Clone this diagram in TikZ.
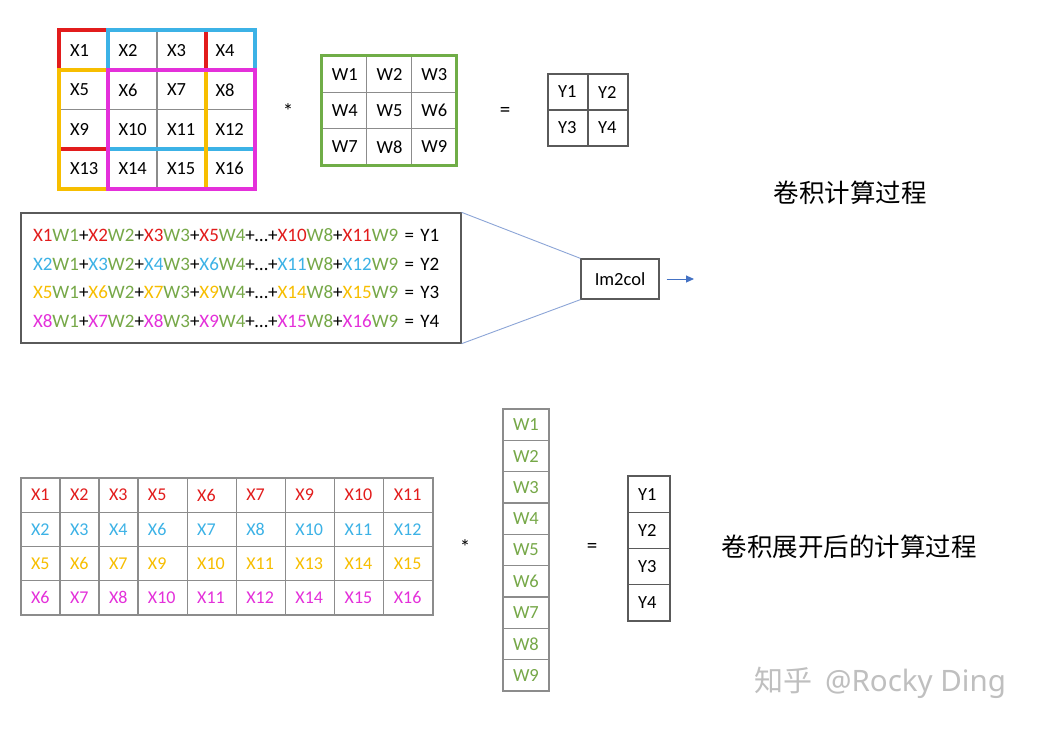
\documentclass[tikz,border=0pt]{standalone}
\usepackage{fontspec}
\setmainfont{Carlito}
\newfontfamily\cjk{Noto Sans CJK SC}
\newfontfamily\wmfont{Noto Sans}
\usetikzlibrary{arrows.meta}
\definecolor{Cred}{RGB}{226,28,28}
\definecolor{Cblue}{RGB}{60,178,230}
\definecolor{Cyel}{RGB}{247,190,0}
\definecolor{Cmag}{RGB}{228,48,218}
\definecolor{Cgreen}{RGB}{112,173,71}
\definecolor{Cwtxt}{RGB}{118,168,72}
\definecolor{Cline}{RGB}{140,140,140}
\definecolor{Cframe}{RGB}{90,90,90}
\definecolor{Clink}{RGB}{140,165,215}
\definecolor{Carrow}{RGB}{68,114,196}
\newcommand\Xr[1]{\textcolor{Cred}{#1}}
\newcommand\Xb[1]{\textcolor{Cblue}{#1}}
\newcommand\Xy[1]{\textcolor{Cyel}{#1}}
\newcommand\Xm[1]{\textcolor{Cmag}{#1}}
\newcommand\Wg[1]{\textcolor{Cwtxt}{#1}}
\begin{document}
\begin{tikzpicture}[
      x=1pt, y=-1pt,
      cell/.style={draw=Cline, line width=1.2pt, inner xsep=10pt, inner ysep=0pt,
                   align=left, font=\fontsize{18.5}{20}\selectfont},
      xcell/.style={cell, text width=28.5pt, minimum height=39.25pt},
      kcell/.style={cell, text width=24.67pt, minimum height=36.33pt},
      ycell/.style={cell, draw=Cframe, text width=20pt, minimum height=36pt},
      mnar/.style={cell, text width=19pt, minimum height=34.25pt,
                   font=\fontsize{18}{20}\selectfont},
      mwide/.style={mnar, text width=29.17pt},
      wcol/.style={cell, text width=26pt, minimum height=31.33pt, text=Cwtxt},
      ycol/.style={cell, draw=Cframe, text width=22pt, minimum height=36.25pt},
      xred/.style={text=Cred}, xblu/.style={text=Cblue},
      xyel/.style={text=Cyel}, xmag/.style={text=Cmag},
      win/.style={line width=4pt},
      op/.style={font=\fontsize{21}{22}\selectfont},
      headtxt/.style={font=\cjk\fontsize{25.5}{28}\selectfont}]
    \path[use as bounding box, fill=white] (0,0) rectangle (1037,731);
    % Input 4x4
    \node[xcell] (x1)  at (84.25,50.625)   {X1};
    \node[xcell] (x2)  at (132.75,50.625)  {X2};
    \node[xcell] (x3)  at (181.25,50.625)  {X3};
    \node[xcell] (x4)  at (229.75,50.625)  {X4};
    \node[xcell] (x5)  at (84.25,89.875)   {X5};
    \node[xcell] (x6)  at (132.75,89.875)  {X6};
    \node[xcell] (x7)  at (181.25,89.875)  {X7};
    \node[xcell] (x8)  at (229.75,89.875)  {X8};
    \node[xcell] (x9)  at (84.25,129.125)  {X9};
    \node[xcell] (x10) at (132.75,129.125) {X10};
    \node[xcell] (x11) at (181.25,129.125) {X11};
    \node[xcell] (x12) at (229.75,129.125) {X12};
    \node[xcell] (x13) at (84.25,168.375)  {X13};
    \node[xcell] (x14) at (132.75,168.375) {X14};
    \node[xcell] (x15) at (181.25,168.375) {X15};
    \node[xcell] (x16) at (229.75,168.375) {X16};
    % Janelas
    \draw[win, Cred]  (x1.north west) rectangle (x11.south east);
    \draw[win, Cblue] (x2.north west) rectangle (x12.south east);
    \draw[win, Cyel]  (x5.north west) rectangle (x15.south east);
    \draw[win, Cmag]  (x6.north west) rectangle (x16.south east);
    % Kernel 3x3
    \node[op] (mul1) at (288,111) {*};
    \node[kcell] (w1) at (344.33,74.17)  {W1};
    \node[kcell] (w2) at (389,74.17)     {W2};
    \node[kcell] (w3) at (433.67,74.17)  {W3};
    \node[kcell] (w4) at (344.33,110.5)  {W4};
    \node[kcell] (w5) at (389,110.5)     {W5};
    \node[kcell] (w6) at (433.67,110.5)  {W6};
    \node[kcell] (w7) at (344.33,146.83) {W7};
    \node[kcell] (w8) at (389,146.83)    {W8};
    \node[kcell] (w9) at (433.67,146.83) {W9};
    \draw[Cgreen, line width=3.5pt] (w1.north west) rectangle (w9.south east);
    % Saida 2x2
    \node[op] (eq1) at (505,112) {=};
    \node[ycell] (y1) at (568,92)  {Y1};
    \node[ycell] (y2) at (608,92)  {Y2};
    \node[ycell] (y3) at (568,128) {Y3};
    \node[ycell] (y4) at (608,128) {Y4};
    \node[headtxt] (lbl1) at (850,193) {卷积计算过程};
    % Equacoes
    \node[draw=Cframe, line width=1.3pt, text width=416pt, inner xsep=12pt,
          minimum height=130pt, align=left, font=\fontsize{19}{28.5}\selectfont]
      (eqbox) at (241,278) {%
      \Xr{X1}\Wg{W1}+\Xr{X2}\Wg{W2}+\Xr{X3}\Wg{W3}+\Xr{X5}\Wg{W4}+…+\Xr{X10}\Wg{W8}+\Xr{X11}\Wg{W9} = Y1\\
      \Xb{X2}\Wg{W1}+\Xb{X3}\Wg{W2}+\Xb{X4}\Wg{W3}+\Xb{X6}\Wg{W4}+…+\Xb{X11}\Wg{W8}+\Xb{X12}\Wg{W9} = Y2\\
      \Xy{X5}\Wg{W1}+\Xy{X6}\Wg{W2}+\Xy{X7}\Wg{W3}+\Xy{X9}\Wg{W4}+…+\Xy{X14}\Wg{W8}+\Xy{X15}\Wg{W9} = Y3\\
      \Xm{X8}\Wg{W1}+\Xm{X7}\Wg{W2}+\Xm{X8}\Wg{W3}+\Xm{X9}\Wg{W4}+…+\Xm{X15}\Wg{W8}+\Xm{X16}\Wg{W9} = Y4};
    \node[draw=Cframe, line width=1.3pt, minimum width=78pt, minimum height=40pt,
          inner sep=0pt, font=\fontsize{18.5}{20}\selectfont] (im2col) at (620,279) {Im2col};
    \draw[Clink, line width=0.9pt] (eqbox.north east) -- (im2col.north west);
    \draw[Clink, line width=0.9pt] (eqbox.south east) -- (im2col.south west);
    \coordinate (arrend) at (694,279);
    \draw[Carrow, line width=1pt, shorten <=7pt, -{Triangle[length=8pt,width=7pt]}]
      (im2col.east) -- (arrend);
    % Matriz expandida
    \node[mnar,xred]  (m11) at (40.5,495.125)   {X1};
    \node[mnar,xred]  (m12) at (79.5,495.125)   {X2};
    \node[mnar,xred]  (m13) at (118.5,495.125)  {X3};
    \node[mwide,xred] (m14) at (162.58,495.125) {X5};
    \node[mwide,xred] (m15) at (211.75,495.125) {X6};
    \node[mwide,xred] (m16) at (260.92,495.125) {X7};
    \node[mwide,xred] (m17) at (310.08,495.125) {X9};
    \node[mwide,xred] (m18) at (359.25,495.125) {X10};
    \node[mwide,xred] (m19) at (408.42,495.125) {X11};
    \node[mnar,xblu]  (m21) at (40.5,529.375)   {X2};
    \node[mnar,xblu]  (m22) at (79.5,529.375)   {X3};
    \node[mnar,xblu]  (m23) at (118.5,529.375)  {X4};
    \node[mwide,xblu] (m24) at (162.58,529.375) {X6};
    \node[mwide,xblu] (m25) at (211.75,529.375) {X7};
    \node[mwide,xblu] (m26) at (260.92,529.375) {X8};
    \node[mwide,xblu] (m27) at (310.08,529.375) {X10};
    \node[mwide,xblu] (m28) at (359.25,529.375) {X11};
    \node[mwide,xblu] (m29) at (408.42,529.375) {X12};
    \node[mnar,xyel]  (m31) at (40.5,563.625)   {X5};
    \node[mnar,xyel]  (m32) at (79.5,563.625)   {X6};
    \node[mnar,xyel]  (m33) at (118.5,563.625)  {X7};
    \node[mwide,xyel] (m34) at (162.58,563.625) {X9};
    \node[mwide,xyel] (m35) at (211.75,563.625) {X10};
    \node[mwide,xyel] (m36) at (260.92,563.625) {X11};
    \node[mwide,xyel] (m37) at (310.08,563.625) {X13};
    \node[mwide,xyel] (m38) at (359.25,563.625) {X14};
    \node[mwide,xyel] (m39) at (408.42,563.625) {X15};
    \node[mnar,xmag]  (m41) at (40.5,597.875)   {X6};
    \node[mnar,xmag]  (m42) at (79.5,597.875)   {X7};
    \node[mnar,xmag]  (m43) at (118.5,597.875)  {X8};
    \node[mwide,xmag] (m44) at (162.58,597.875) {X10};
    \node[mwide,xmag] (m45) at (211.75,597.875) {X11};
    \node[mwide,xmag] (m46) at (260.92,597.875) {X12};
    \node[mwide,xmag] (m47) at (310.08,597.875) {X14};
    \node[mwide,xmag] (m48) at (359.25,597.875) {X15};
    \node[mwide,xmag] (m49) at (408.42,597.875) {X16};
    % Kernel em coluna
    \node[op] (mul2) at (465,547) {*};
    \node[wcol] (c1) at (526,424.67) {W1};
    \node[wcol] (c2) at (526,456)    {W2};
    \node[wcol] (c3) at (526,487.33) {W3};
    \node[wcol] (c4) at (526,518.67) {W4};
    \node[wcol] (c5) at (526,550)    {W5};
    \node[wcol] (c6) at (526,581.33) {W6};
    \node[wcol] (c7) at (526,612.67) {W7};
    \node[wcol] (c8) at (526,644)    {W8};
    \node[wcol] (c9) at (526,675.33) {W9};
    % Saida em coluna
    \node[op] (eq2) at (592,548) {=};
    \node[ycol] (r1) at (649,494.125) {Y1};
    \node[ycol] (r2) at (649,530.375) {Y2};
    \node[ycol] (r3) at (649,566.625) {Y3};
    \node[ycol] (r4) at (649,602.875) {Y4};
    \node[headtxt] (lbl2) at (849,547) {卷积展开后的计算过程};
    % Marca
    \node[text=black!25] (mark) at (880,683)
      {{\cjk\fontsize{29}{30}\selectfont 知乎}\hspace{13pt}{\wmfont\fontsize{29.5}{30}\selectfont @Rocky Ding}};
  \end{tikzpicture}
\end{document}
